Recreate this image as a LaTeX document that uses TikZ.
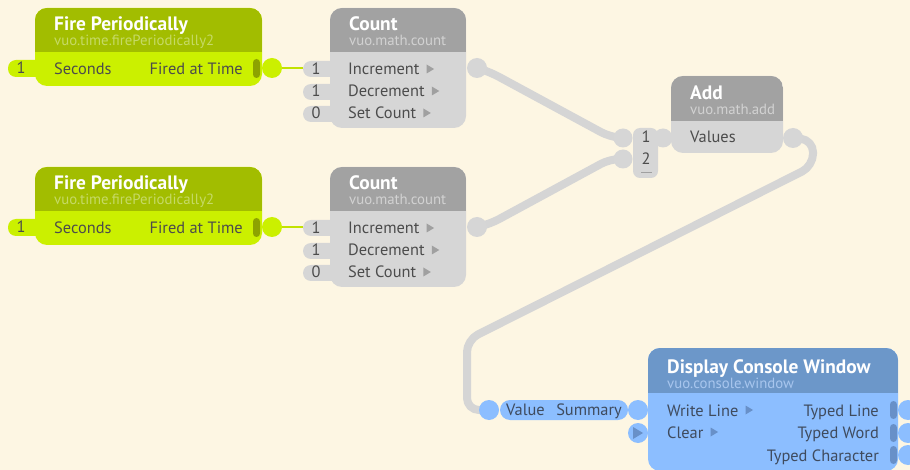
\documentclass[tikz,border=0pt]{standalone}
\usepackage{fontspec}
\setmainfont{PT Sans}
\definecolor{bg}{HTML}{FDF6E3}
\definecolor{gTitle}{HTML}{A2BD00}
\definecolor{gBody}{HTML}{CBF000}
\definecolor{gSub}{HTML}{C6DA66}
\definecolor{gBar}{HTML}{8DA300}
\definecolor{gLine}{HTML}{C2E200}
\definecolor{kTitle}{HTML}{A2A2A2}
\definecolor{kBody}{HTML}{D6D6D6}
\definecolor{kSub}{HTML}{D2D2D2}
\definecolor{kTri}{HTML}{A0A0A0}
\definecolor{cableGray}{HTML}{D5D5D5}
\definecolor{bTitle}{HTML}{6C97C9}
\definecolor{bBody}{HTML}{8CBEFF}
\definecolor{bSub}{HTML}{A8C6EE}
\definecolor{bDark}{HTML}{6890C8}
\definecolor{txt}{HTML}{4C4C4C}
\definecolor{btxt}{HTML}{3F4B5E}
\newcommand\vuonode[7]{%
  \node[vbody, fill=#7Body, minimum width={(#4-#2)*1pt}, minimum height={(#6-#3)*1pt}] (#1) at (#2,#3) {};
  \begin{scope}
    \clip[rounded corners=12pt] (#2,#3) rectangle (#4,#6);
    \fill[#7Title] (#2,#3) rectangle (#4,#5);
  \end{scope}}
\tikzset{
  cable/.style={line width=8pt, draw=cableGray, line cap=round, line join=round},
  vbody/.style={inner sep=0pt, outer sep=0pt, rounded corners=12pt, anchor=north west},
  vport/.style={circle, inner sep=0pt, minimum size=20pt},
  lbl/.style={inner sep=0pt, anchor=base west, font=\fontsize{16.4}{19}\selectfont, text=txt},
  lblr/.style={lbl, anchor=base east},
  lblc/.style={lbl, anchor=base},
  ttl/.style={inner sep=0pt, anchor=base west, font=\bfseries\fontsize{19.4}{22}\selectfont, text=white},
  subt/.style={inner sep=0pt, anchor=base west, font=\fontsize{14.8}{17}\selectfont},
}
\begin{document}
\begin{tikzpicture}[x=1pt,y=-1pt]
\useasboundingbox (0,0) rectangle (910,470);
\fill[bg] (0,0) rectangle (910,470);

% ---------- port coordinates
\coordinate (c1in) at (303,68);
\coordinate (c2in) at (303,227);

% ---------- cables
\draw[cable, rounded corners=10pt] (477,68) -- (490,72) -- (610,137) -- (623,138);
\draw[cable, rounded corners=10pt] (477,227) -- (490,224) -- (610,159) -- (623,159);
\draw[cable, rounded corners=12pt] (793,138) -- (813,140) -- (813,166) -- (467,340) -- (467,410) -- (489,410);

% ---------- Fire Periodically 1
\fill[gBody, rounded corners=8pt] (8,60) rectangle (48,77);
\vuonode{fire1}{35}{8}{262}{52}{86}{g}
\node[ttl] (fire1t) at (54,31) {Fire Periodically};
\node[subt, text=gSub] (fire1s) at (54,46) {vuo.time.firePeriodically2};
\node[lblc] (fire1v) at (21,74) {1};
\node[lbl] (fire1l) at (54,75) {Seconds};
\node[lblr] (fire1r) at (243,75) {Fired at Time};
\fill[gBar, rounded corners=3.5pt] (253,59) rectangle (260,78);
\node[vport, fill=gBody] (fire1out) at (272,68) {};

% ---------- Fire Periodically 2
\fill[gBody, rounded corners=8pt] (8,219) rectangle (48,236);
\vuonode{fire2}{35}{167}{262}{211}{245}{g}
\node[ttl] (fire2t) at (54,190) {Fire Periodically};
\node[subt, text=gSub] (fire2s) at (54,205) {vuo.time.firePeriodically2};
\node[lblc] (fire2v) at (21,233) {1};
\node[lbl] (fire2l) at (54,234) {Seconds};
\node[lblr] (fire2r) at (243,234) {Fired at Time};
\fill[gBar, rounded corners=3.5pt] (253,218) rectangle (260,237);
\node[vport, fill=gBody] (fire2out) at (272,227) {};

\draw[line width=2pt, gLine] (fire1out) -- (c1in);
\draw[line width=2pt, gLine] (fire2out) -- (c2in);

% ---------- Count 1
\foreach \yy in {61,84,106}{\fill[kBody, rounded corners=8pt] (303,\yy) rectangle (343,\yy+16);}
\vuonode{count1}{330}{8}{466}{52}{128}{k}
\node[ttl] (count1t) at (349,31) {Count};
\node[subt, text=kSub] (count1s) at (349,46) {vuo.math.count};
\node[lblc] (count1v1) at (316,75) {1};
\node[lblc] (count1v2) at (316,97) {1};
\node[lblc] (count1v3) at (316,119) {0};
\node[lbl] (count1l1) at (348,75) {Increment};
\node[lbl] (count1l2) at (348,97) {Decrement};
\node[lbl] (count1l3) at (348,119) {Set Count};
\foreach \n in {1,2,3}{\fill[kTri] (count1l\n.base east) ++(7,-10.5) -- ++(7.5,4.5) -- ++(-7.5,4.5) -- cycle;}
\node[vport, fill=kBody] (count1out) at (477,68) {};

% ---------- Count 2
\foreach \yy in {220,243,265}{\fill[kBody, rounded corners=8pt] (303,\yy) rectangle (343,\yy+16);}
\vuonode{count2}{330}{167}{466}{211}{287}{k}
\node[ttl] (count2t) at (349,190) {Count};
\node[subt, text=kSub] (count2s) at (349,205) {vuo.math.count};
\node[lblc] (count2v1) at (316,234) {1};
\node[lblc] (count2v2) at (316,256) {1};
\node[lblc] (count2v3) at (316,278) {0};
\node[lbl] (count2l1) at (348,234) {Increment};
\node[lbl] (count2l2) at (348,256) {Decrement};
\node[lbl] (count2l3) at (348,278) {Set Count};
\foreach \n in {1,2,3}{\fill[kTri] (count2l\n.base east) ++(7,-10.5) -- ++(7.5,4.5) -- ++(-7.5,4.5) -- cycle;}
\node[vport, fill=kBody] (count2out) at (477,227) {};

% ---------- Add
\fill[kBody, rounded corners=7pt] (633,128) rectangle (658,178);
\node[vport, fill=kBody, minimum size=19pt] (addin) at (663,138) {};
\vuonode{add}{671}{76}{783}{121}{153}{k}
\node[ttl] (addt) at (690,100) {Add};
\node[subt, text=kSub] (adds) at (690,115) {vuo.math.add};
\node[lbl] (addl) at (690,143) {Values};
\node[lblc] (addv1) at (646,143) {1};
\node[lblc] (addv2) at (646,165) {2};
\draw[kTri, line width=1pt] (641,173) -- (652,173);
\node[vport, fill=kBody, minimum size=19pt] (add1) at (623,138) {};
\node[vport, fill=kBody, minimum size=19pt] (add2) at (623,159) {};
\node[vport, fill=kBody] (addout) at (793,138) {};

% ---------- Value / Summary converter
\node[fill=bBody, rounded corners=10pt, inner sep=0pt, minimum width=128pt, minimum height=20pt] (conv) at (564,410) {};
\node[lbl, text=btxt] (convl) at (506,415) {Value};
\node[lblr, text=btxt] (convr) at (622,415) {Summary};
\node[vport, fill=bBody] (convin) at (489,410) {};

% ---------- Display Console Window
\vuonode{cons}{648}{348}{898}{393}{471}{b}
\node[ttl] (const) at (667,373) {Display Console Window};
\node[subt, text=bSub] (conss) at (667,388) {vuo.console.window};
\node[lbl, text=btxt] (consl1) at (667,416) {Write Line};
\node[lbl, text=btxt] (consl2) at (667,438) {Clear};
\foreach \n in {1,2}{\fill[bDark] (consl\n.base east) ++(7,-10.5) -- ++(7.5,4.5) -- ++(-7.5,4.5) -- cycle;}
\node[lblr, text=btxt] (consr1) at (879,416) {Typed Line};
\node[lblr, text=btxt] (consr2) at (879,438) {Typed Word};
\node[lblr, text=btxt] (consr3) at (879,461) {Typed Character};
\foreach \yy in {410,433,455}{
  \fill[bDark, rounded corners=3.5pt] (890,\yy-9) rectangle (897,\yy+9);
  \node[vport, fill=bBody] at (908,\yy) {};
}
\node[vport, fill=bBody] (consin1) at (638,410) {};
\node[vport, fill=bBody] (consin2) at (638,433) {};
\fill[bDark] (633,427) -- (643,433) -- (633,439) -- cycle;
\end{tikzpicture}
\end{document}
